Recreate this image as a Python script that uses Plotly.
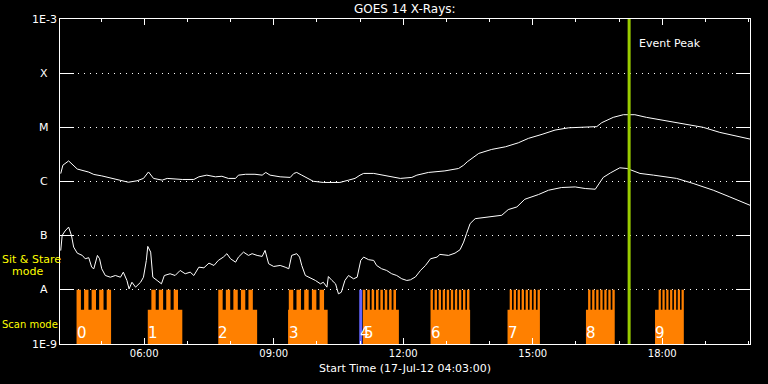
import math
import plotly.graph_objects as go

DAY = "2012-07-17"

# GOES 14 long channel (1-8 A)
LONG_TIMES = ["04:04", "04:07", "04:15", "04:20", "04:27", "04:43", "04:50", "05:01", "05:20", "05:38",
              "05:50", "05:59", "06:06", "06:13", "06:25", "06:32", "06:53", "07:09", "07:16", "07:27",
              "07:39", "07:48", "07:57", "08:07", "08:11", "08:21", "08:34", "08:44", "08:49", "08:55",
              "09:09", "09:23", "09:28", "09:32", "09:39", "09:49", "09:55", "10:09", "10:32", "10:44",
              "10:53", "11:00", "11:05", "11:19", "11:33", "11:56", "12:12", "12:19", "12:35", "12:58",
              "13:17", "13:24", "13:29", "13:45", "14:03", "14:22", "14:40", "14:54", "15:13", "15:31",
              "15:50", "16:13", "16:29", "16:36", "16:52", "17:06", "17:22", "17:38", "18:06", "18:34",
              "18:57", "19:20", "19:43", "20:02"]
LONG_FLUX = [1.4e-6, 2.0e-6, 2.4e-6, 2.1e-6, 1.7e-6, 1.49e-6, 1.35e-6, 1.27e-6, 1.10e-6, 0.97e-6,
             1.03e-6, 1.14e-6, 1.5e-6, 1.14e-6, 1.06e-6, 1.14e-6, 1.09e-6, 1.09e-6, 1.22e-6, 1.31e-6,
             1.22e-6, 1.25e-6, 1.14e-6, 1.14e-6, 1.31e-6, 1.36e-6, 1.36e-6, 1.31e-6, 1.47e-6, 1.31e-6,
             1.22e-6, 1.19e-6, 1.41e-6, 1.47e-6, 1.31e-6, 1.09e-6, 1.01e-6, 0.96e-6, 0.96e-6, 1.06e-6,
             1.14e-6, 1.31e-6, 1.41e-6, 1.41e-6, 1.31e-6, 1.14e-6, 1.19e-6, 1.31e-6, 1.47e-6, 1.57e-6,
             1.74e-6, 2.0e-6, 2.31e-6, 3.30e-6, 3.91e-6, 4.37e-6, 5.18e-6, 6.25e-6, 7.42e-6, 8.9e-6,
             9.8e-6, 1.0e-5, 1.03e-5, 1.22e-5, 1.53e-5, 1.71e-5, 1.71e-5, 1.53e-5, 1.32e-5, 1.15e-5,
             1.0e-5, 8.07e-6, 6.9e-6, 6.07e-6]

# GOES 14 short channel (0.5-4 A)
SHORT_TIMES = ["04:04", "04:06", "04:10", "04:15", "04:19", "04:22", "04:27", "04:34", "04:38", "04:43",
               "04:47", "04:50", "04:55", "04:58", "05:01", "05:06", "05:13", "05:20", "05:27", "05:31",
               "05:36", "05:39", "05:43", "05:48", "05:55", "05:59", "06:03", "06:05", "06:09", "06:12",
               "06:18", "06:24", "06:28", "06:36", "06:43", "06:50", "06:57", "07:04", "07:09", "07:16",
               "07:23", "07:30", "07:37", "07:43", "07:50", "07:55", "08:00", "08:07", "08:11", "08:18",
               "08:25", "08:30", "08:37", "08:44", "08:48", "08:53", "09:00", "09:09", "09:16", "09:21",
               "09:25", "09:32", "09:36", "09:39", "09:44", "09:51", "09:58", "10:05", "10:09", "10:14",
               "10:16", "10:21", "10:26", "10:30", "10:34", "10:39", "10:44", "10:51", "10:56", "11:01",
               "11:05", "11:12", "11:19", "11:23", "11:30", "11:37", "11:44", "11:51", "11:58", "12:05",
               "12:10", "12:17", "12:24", "12:31", "12:38", "12:47", "12:51", "13:03", "13:12", "13:19",
               "13:24", "13:28", "13:33", "13:40", "13:49", "14:05", "14:17", "14:26", "14:38", "14:49",
               "15:08", "15:22", "15:40", "15:59", "16:13", "16:27", "16:31", "16:38", "16:48", "17:01",
               "17:11", "17:29", "17:48", "18:20", "18:43", "19:11", "19:34", "20:02"]
SHORT_FLUX = [5.3e-8, 1.01e-7, 1.22e-7, 1.44e-7, 1.0e-7, 6.15e-8, 4.76e-8, 4.32e-8, 3.75e-8, 3.92e-8,
              2.62e-8, 2.45e-8, 4.32e-8, 3.75e-8, 2.45e-8, 1.84e-8, 1.71e-8, 1.84e-8, 1.71e-8, 2.12e-8,
              1.49e-8, 1.04e-8, 1.38e-8, 1.12e-8, 1.38e-8, 1.71e-8, 3.49e-8, 6.34e-8, 4.97e-8, 1.71e-8,
              1.49e-8, 1.29e-8, 1.84e-8, 1.98e-8, 1.84e-8, 2.28e-8, 1.98e-8, 2.12e-8, 1.84e-8, 2.62e-8,
              2.55e-8, 3.11e-8, 2.82e-8, 3.49e-8, 4.02e-8, 4.65e-8, 3.75e-8, 3.24e-8, 4.02e-8, 4.97e-8,
              4.32e-8, 4.65e-8, 4.32e-8, 4.14e-8, 5.34e-8, 3.03e-8, 2.70e-8, 2.82e-8, 2.62e-8, 2.45e-8,
              4.32e-8, 4.65e-8, 4.02e-8, 2.82e-8, 1.84e-8, 1.67e-8, 1.49e-8, 1.29e-8, 1.38e-8, 1.12e-8,
              1.76e-8, 1.49e-8, 1.29e-8, 8.43e-9, 9.03e-9, 1.49e-8, 1.84e-8, 1.60e-8, 1.71e-8, 3.49e-8,
              4.02e-8, 3.60e-8, 3.49e-8, 2.82e-8, 2.45e-8, 2.28e-8, 1.98e-8, 1.84e-8, 1.60e-8, 1.49e-8,
              1.53e-8, 1.73e-8, 2.28e-8, 2.82e-8, 3.75e-8, 4.02e-8, 4.51e-8, 4.32e-8, 4.76e-8, 5.5e-8,
              7.6e-8, 1.09e-7, 1.67e-7, 2.06e-7, 2.15e-7, 2.31e-7, 2.38e-7, 3.03e-7, 3.39e-7, 4.7e-7,
              5.74e-7, 6.9e-7, 7.74e-7, 7.94e-7, 7.42e-7, 7.2e-7, 8.5e-7, 1.19e-6, 1.44e-6, 1.79e-6,
              1.74e-6, 1.41e-6, 1.31e-6, 1.14e-6, 9.2e-7, 6.9e-7, 5.19e-7, 3.64e-7]

# Scan-mode blocks (orange), with the sit & stare "teeth"
BLOCK_START = ["04:26", "06:05", "07:43", "09:20", "11:04", "12:38", "14:25", "16:14", "17:50"]
BLOCK_END = ["05:14", "06:53", "08:37", "10:15", "11:54", "13:33", "15:10", "16:54", "18:30"]
TEETH_START = ["04:26", "06:10", "07:43", "09:21", "11:04", "12:38", "14:28", "16:17", "17:55"]
TEETH_END = ["05:14", "06:47", "08:31", "10:10", "11:50", "13:32", "15:10", "16:54", "18:30"]
TEETH_COUNT = [5, 4, 5, 5, 8, 10, 8, 7, 7]
BLOCK_LABELS = ["0", "1", "2", "3", "4", "5", "6", "7", "8", "9"]
LABEL_TIMES = ["04:26", "06:05", "07:43", "09:21", "11:00", "11:05", "12:38", "14:25", "16:14", "17:50"]

SCAN_LEVEL = 4.3e-9
STARE_LEVEL = 1e-8
FLOOR = 1e-9

EVENT_PEAK = "17:14"
BLUE_MARK = "11:01"

Y_TICKS = [1e-3, 1e-4, 1e-5, 1e-6, 1e-7, 1e-8, 1e-9]
Y_LABELS = ["1E-3", "X", "M", "C", "B", "A", "1E-9"]

X_START = "04:03"
X_END = "20:02"

ORANGE = "#ff8000"
GREEN = "#99cc00"
BLUE = "#6464ff"
FONT = "DejaVu Sans"


def ts(t):
    return f"{DAY} {t}:00"


def minutes(t):
    h, m = t.split(":")
    return int(h) * 60 + int(m)


def ts_min(mins):
    total = mins * 60.0
    h = int(total // 3600)
    m = int((total % 3600) // 60)
    s = total % 60
    return f"{DAY} {h:02d}:{m:02d}:{s:06.3f}"


fig = go.Figure()

# Orange scan blocks as filled polygons
bx, by = [], []
for s, e, ts0, ts1, n in zip(BLOCK_START, BLOCK_END, TEETH_START, TEETH_END, TEETH_COUNT):
    x0, x1 = ts(s), ts(e)
    bx += [x0, x1, x1, x0, x0, None]
    by += [FLOOR, FLOOR, SCAN_LEVEL, SCAN_LEVEL, FLOOR, None]
    a, b = minutes(ts0), minutes(ts1)
    duty = 0.58
    period = (b - a) / (n - 1 + duty)
    for k in range(n):
        t0 = a + k * period
        t1 = t0 + duty * period
        bx += [ts_min(t0), ts_min(t1), ts_min(t1), ts_min(t0), ts_min(t0), None]
        by += [FLOOR, FLOOR, STARE_LEVEL, STARE_LEVEL, FLOOR, None]

fig.add_trace(go.Scatter(x=bx, y=by, mode="lines", fill="toself", fillcolor=ORANGE,
                         line=dict(width=0, color=ORANGE), hoverinfo="skip", showlegend=False))

# Blue marker
fig.add_trace(go.Scatter(x=[ts(BLUE_MARK), ts(BLUE_MARK)], y=[FLOOR, STARE_LEVEL], mode="lines",
                         line=dict(color=BLUE, width=3), showlegend=False, hoverinfo="skip"))

# Curves
fig.add_trace(go.Scatter(x=[ts(t) for t in LONG_TIMES], y=LONG_FLUX, mode="lines",
                         line=dict(color="white", width=1), showlegend=False))
fig.add_trace(go.Scatter(x=[ts(t) for t in SHORT_TIMES], y=SHORT_FLUX, mode="lines",
                         line=dict(color="white", width=1), showlegend=False))

# Event peak line
fig.add_trace(go.Scatter(x=[ts(EVENT_PEAK), ts(EVENT_PEAK)], y=[FLOOR, 1e-3], mode="lines",
                         line=dict(color=GREEN, width=3), showlegend=False, hoverinfo="skip"))

annotations = []
for lab, val in zip(Y_LABELS, Y_TICKS):
    annotations.append(dict(x=-16 / 690, xref="paper", y=math.log10(val), yref="y", text=lab,
                            showarrow=False, xanchor="center", yanchor="middle",
                            font=dict(family=FONT, size=11, color="white")))

for lab, t in zip(BLOCK_LABELS, LABEL_TIMES):
    annotations.append(dict(x=ts(t), xref="x", y=(344 - 332.5) / 325, yref="paper", text=lab,
                            showarrow=False, xanchor="left", yanchor="middle", xshift=-2,
                            font=dict(family=FONT, size=15, color="white")))

annotations += [
    dict(x=ts(EVENT_PEAK), xref="x", y=(344 - 43) / 325, yref="paper", text="Event Peak",
         showarrow=False, xanchor="left", yanchor="middle", xshift=8,
         font=dict(family=FONT, size=11, color="white")),
    dict(x=0.5, xref="paper", y=1, yref="paper", yshift=10, text="GOES 14 X-Rays:",
         showarrow=False, xanchor="center", yanchor="middle",
         font=dict(family=FONT, size=12, color="white")),
    dict(x=0.5, xref="paper", y=0, yref="paper", yshift=-24, text="Start Time (17-Jul-12 04:03:00)",
         showarrow=False, xanchor="center", yanchor="middle",
         font=dict(family=FONT, size=11, color="white")),
    dict(x=-60 / 690, xref="paper", y=(344 - 259) / 325, yref="paper", text="Sit & Stare",
         showarrow=False, xanchor="left", yanchor="middle",
         font=dict(family=FONT, size=11, color="yellow")),
    dict(x=-50 / 690, xref="paper", y=(344 - 271) / 325, yref="paper", text="mode",
         showarrow=False, xanchor="left", yanchor="middle",
         font=dict(family=FONT, size=11, color="yellow")),
    dict(x=-60 / 690, xref="paper", y=(344 - 324) / 325, yref="paper", text="Scan mode",
         showarrow=False, xanchor="left", yanchor="middle",
         font=dict(family=FONT, size=10, color="yellow")),
]

fig.update_layout(
    width=768, height=384,
    margin=dict(l=60, r=18, t=19, b=40),
    paper_bgcolor="black", plot_bgcolor="black",
    showlegend=False,
    annotations=annotations,
    font=dict(family=FONT, color="white"),
    xaxis=dict(
        type="date", range=[ts(X_START), ts(X_END)],
        tick0=ts("06:00"), dtick=3 * 3600 * 1000, tickformat="%H:%M",
        ticks="inside", ticklen=6, tickcolor="white", tickwidth=1,
        minor=dict(dtick=3600 * 1000, tick0=ts("06:00"), ticks="inside", ticklen=3,
                   tickcolor="white", tickwidth=1, showgrid=False),
        showline=True, linecolor="white", linewidth=1, mirror="ticks",
        showgrid=False, zeroline=False,
        tickfont=dict(family=FONT, size=10, color="white"),
    ),
    yaxis=dict(
        type="log", range=[-9, -3],
        tickvals=Y_TICKS, showticklabels=False,
        ticks="inside", ticklen=14, tickcolor="white", tickwidth=1,
        showline=True, linecolor="white", linewidth=1, mirror="ticks",
        showgrid=True, gridcolor="white", gridwidth=1, griddash="1px,5px",
        zeroline=False,
    ),
)

fig.write_html("out.html")
